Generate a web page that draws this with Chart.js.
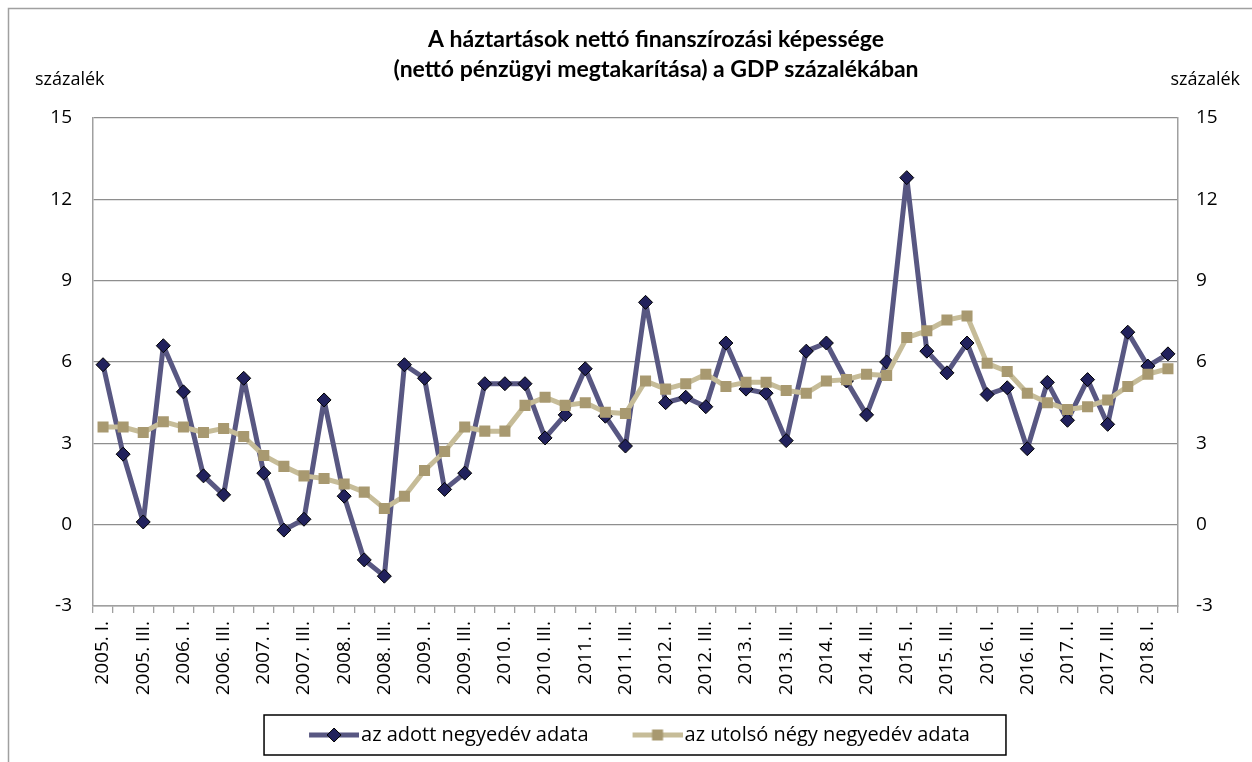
<!DOCTYPE html>
<html>
<head>
<meta charset="utf-8">
<script src="https://cdn.jsdelivr.net/npm/chart.js@4.4.1/dist/chart.umd.min.js"></script>
<style>
  html, body { margin: 0; padding: 0; background: #fff; }
  canvas { display: block; }
</style>
</head>
<body>
<canvas id="grafico" width="1252" height="762"></canvas>
<script>
const cim = ['A háztartások nettó finanszírozási képessége', '(nettó pénzügyi megtakarítása) a GDP százalékában'];
const mertekegyseg = 'százalék';

const negyedevek = [
    '2005. I.', '2005. II.', '2005. III.', '2005. IV.',
    '2006. I.', '2006. II.', '2006. III.', '2006. IV.',
    '2007. I.', '2007. II.', '2007. III.', '2007. IV.',
    '2008. I.', '2008. II.', '2008. III.', '2008. IV.',
    '2009. I.', '2009. II.', '2009. III.', '2009. IV.',
    '2010. I.', '2010. II.', '2010. III.', '2010. IV.',
    '2011. I.', '2011. II.', '2011. III.', '2011. IV.',
    '2012. I.', '2012. II.', '2012. III.', '2012. IV.',
    '2013. I.', '2013. II.', '2013. III.', '2013. IV.',
    '2014. I.', '2014. II.', '2014. III.', '2014. IV.',
    '2015. I.', '2015. II.', '2015. III.', '2015. IV.',
    '2016. I.', '2016. II.', '2016. III.', '2016. IV.',
    '2017. I.', '2017. II.', '2017. III.', '2017. IV.',
    '2018. I.', '2018. II.'
];

// az adott negyedév adata
const adottNegyedev = [5.9, 2.6, 0.1, 6.6, 4.9, 1.8, 1.1, 5.4, 1.9, -0.2, 0.2, 4.6, 1.05, -1.3, -1.9, 5.9,
    5.4, 1.3, 1.9, 5.2, 5.2, 5.2, 3.2, 4.05, 5.75, 4.0, 2.9, 8.2, 4.5, 4.7, 4.35, 6.7,
    5.0, 4.85, 3.1, 6.4, 6.7, 5.3, 4.05, 6.0, 12.8, 6.4, 5.6, 6.7, 4.8, 5.05, 2.8, 5.25,
    3.85, 5.35, 3.7, 7.1, 5.85, 6.3];

// az utolsó négy negyedév adata
const utolsoNegy = [3.6, 3.6, 3.4, 3.8, 3.6, 3.4, 3.55, 3.25, 2.55, 2.15, 1.8, 1.7, 1.5, 1.2, 0.6, 1.05,
    2.0, 2.7, 3.6, 3.45, 3.45, 4.4, 4.7, 4.4, 4.5, 4.15, 4.1, 5.3, 5.0, 5.2, 5.55, 5.1,
    5.25, 5.25, 4.95, 4.85, 5.3, 5.35, 5.55, 5.5, 6.9, 7.15, 7.55, 7.7, 5.95, 5.65, 4.85, 4.5,
    4.25, 4.35, 4.6, 5.1, 5.55, 5.75];

const yTengely = { min: -3, max: 15, lepes: 3 };

const szinSotet = 'rgb(88, 87, 130)';
const szinSotetPont = 'rgb(33, 33, 92)';
const szinBarna = 'rgb(198, 188, 152)';
const szinBarnaPont = 'rgb(168, 153, 112)';
const szurke = '#8e8e8e';

// ikon a jelmagyarazathoz: vonal + jelolo
const ikon = (vonalSzin, tipus) => {
    const c = document.createElement('canvas');
    c.width = 100;
    c.height = 20;
    const g = c.getContext('2d');
    g.strokeStyle = vonalSzin;
    g.lineWidth = 5;
    g.beginPath();
    g.moveTo(50, 10);
    g.lineTo(100, 10);
    g.stroke();
    if (tipus === 'rombusz') {
        g.fillStyle = szinSotetPont;
        g.strokeStyle = '#000';
        g.lineWidth = 1;
        g.beginPath();
        g.moveTo(75, 3); g.lineTo(82, 10); g.lineTo(75, 17); g.lineTo(68, 10);
        g.closePath();
        g.fill(); g.stroke();
    } else {
        g.fillStyle = szinBarnaPont;
        g.fillRect(69.5, 4.5, 11, 11);
    }
    return c;
};
const ikonSotet = ikon(szinSotet, 'rombusz');
const ikonBarna = ikon(szinBarna, 'negyzet');

const kiegeszitok = {
    id: 'kiegeszitok',
    beforeDraw: chart => {
        const ctx = chart.ctx;
        ctx.save();
        ctx.strokeStyle = '#a0a0a0';
        ctx.lineWidth = 1.5;
        ctx.strokeRect(8.5, 8.5, 1300, 800);
        ctx.restore();
    },
    afterDraw: chart => {
        const ctx = chart.ctx;
        const area = chart.chartArea;
        ctx.save();
        ctx.fillStyle = '#000';
        ctx.textBaseline = 'middle';
        ctx.textAlign = 'center';
        ctx.font = 'bold 23px Lato';
        ctx.fillText(cim[0], 656, area.top - 78);
        ctx.fillText(cim[1], 656, area.top - 48);

        ctx.font = '18px "Open Sans"';
        ctx.textAlign = 'left';
        ctx.fillText(mertekegyseg, area.left - 58, area.top - 38);
        ctx.textAlign = 'right';
        ctx.fillText(mertekegyseg, area.right + 62, area.top - 38);

        // keret a jelmagyarazat kore
        const hb = chart.legend.legendHitBoxes;
        if (hb && hb.length) {
            const bal = hb[0].left - 3;
            const jobb = hb[hb.length - 1].left + hb[hb.length - 1].width + 36;
            const fent = hb[0].top - 10;
            ctx.strokeStyle = '#000';
            ctx.lineWidth = 1.5;
            ctx.strokeRect(bal, fent, jobb - bal, 40);
        }
        ctx.restore();
    }
};

const betu = { family: '"Open Sans"', size: 19 };

const config = {
    type: 'line',
    data: {
        labels: negyedevek,
        datasets: [
            {
                label: 'az adott negyedév adata',
                data: adottNegyedev,
                borderColor: szinSotet,
                borderWidth: 5,
                borderJoinStyle: 'round',
                borderCapStyle: 'round',
                pointStyle: 'rectRot',
                pointRadius: 7,
                pointBackgroundColor: szinSotetPont,
                pointBorderColor: '#000',
                pointBorderWidth: 1,
                tension: 0,
                order: 1
            },
            {
                label: 'az utolsó négy negyedév adata',
                data: utolsoNegy,
                borderColor: szinBarna,
                borderWidth: 5,
                borderJoinStyle: 'round',
                borderCapStyle: 'round',
                pointStyle: 'rect',
                pointRadius: 7.8,
                pointBackgroundColor: szinBarnaPont,
                pointBorderColor: szinBarnaPont,
                pointBorderWidth: 0,
                tension: 0,
                order: 0
            }
        ]
    },
    options: {
        responsive: false,
        animation: false,
        devicePixelRatio: 1,
        layout: { padding: { left: 0, right: 15, top: 118, bottom: 7 } },
        plugins: {
            title: { display: false },
            tooltip: { enabled: false },
            legend: {
                position: 'bottom',
                labels: {
                    usePointStyle: true,
                    pointStyleWidth: 84,
                    padding: 2,
                    color: '#000',
                    font: { family: '"Open Sans"', size: 20 },
                    sort: (a, b) => a.datasetIndex - b.datasetIndex,
                    generateLabels: chart => {
                        const items = Chart.defaults.plugins.legend.labels.generateLabels(chart);
                        items.forEach(it => {
                            it.pointStyle = it.datasetIndex === 0 ? ikonSotet : ikonBarna;
                        });
                        return items;
                    }
                }
            }
        },
        scales: {
            x: {
                offset: true,
                grid: { offset: true, drawOnChartArea: false, drawTicks: true, tickLength: 7, color: '#a0a0a0', lineWidth: 1.3 },
                border: { color: '#a0a0a0', width: 1.5 },
                ticks: {
                    autoSkip: false,
                    minRotation: 90,
                    maxRotation: 90,
                    padding: 8,
                    color: '#000',
                    font: betu,
                    callback: (v, i) => i % 2 === 0 ? negyedevek[i] : ''
                },
                afterFit: s => { s.height = 117; }
            },
            y: {
                position: 'left',
                min: yTengely.min,
                max: yTengely.max,
                ticks: { stepSize: yTengely.lepes, padding: 21, color: '#000', font: betu },
                grid: { color: szurke, lineWidth: 1.3, drawTicks: false },
                border: { color: '#a0a0a0', width: 1.5 },
                afterFit: s => { s.width = 93; }
            },
            y2: {
                position: 'right',
                min: yTengely.min,
                max: yTengely.max,
                ticks: { stepSize: yTengely.lepes, padding: 18, color: '#000', font: betu },
                grid: { drawOnChartArea: false, drawTicks: false },
                border: { color: '#a0a0a0', width: 1.5 },
                afterFit: s => { s.width = 59; }
            }
        }
    },
    plugins: [kiegeszitok]
};

window.chartHaztartas = new Chart(document.getElementById('grafico'), config);
</script>
</body>
</html>
